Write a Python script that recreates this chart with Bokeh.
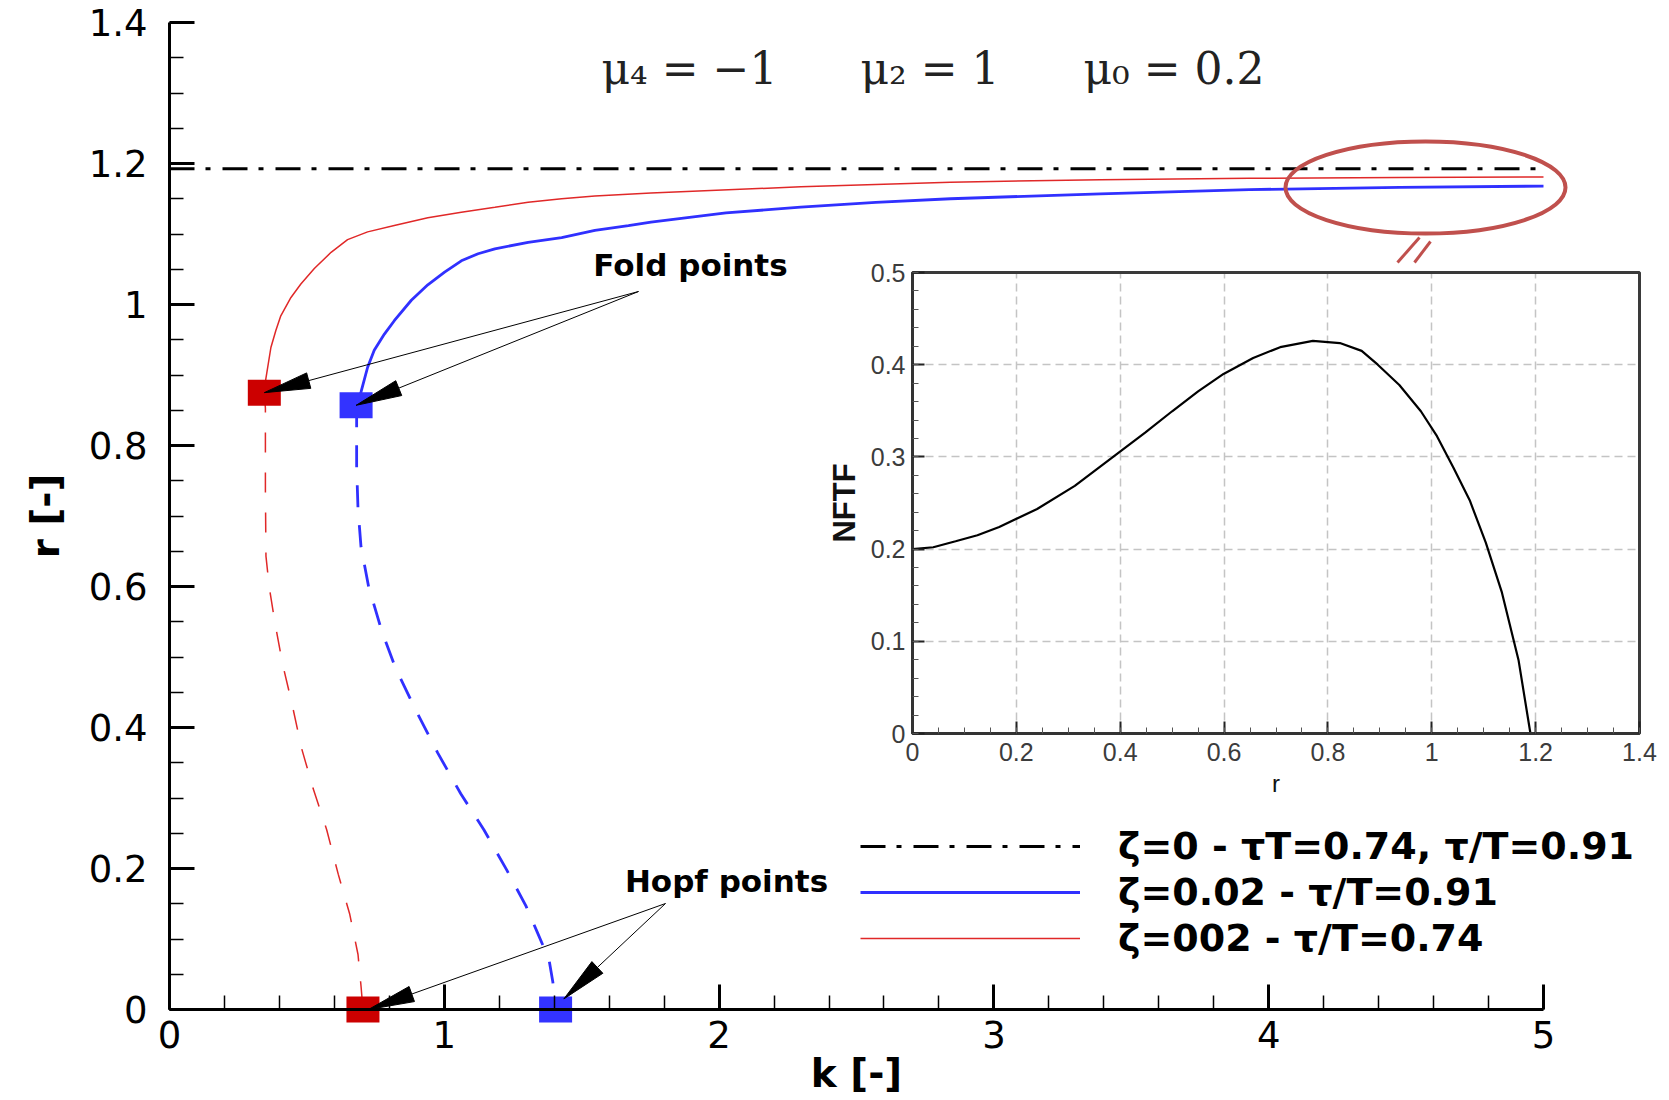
import numpy as np
from bokeh.plotting import figure
from bokeh.models import (Range1d, SingleIntervalTicker, CustomJSTickFormatter,
                          Legend, LegendItem, LinearAxis, Grid)
from bokeh.core.properties import value
from bokeh.embed import file_html
from bokeh.resources import INLINE

# ---------------- data ----------------
zeta0_k = [0.0, 5.0]
zeta0_r = [1.1925, 1.1925]

blue_st_k = [0.679, 0.697, 0.721, 0.745, 0.782, 0.818, 0.880, 0.940, 1.001, 1.062, 1.123,
             1.184, 1.305, 1.427, 1.548, 1.670, 1.752, 2.025, 2.297, 2.570, 2.842, 3.387,
             3.930, 4.476, 5.000]
blue_st_r = [0.857, 0.876, 0.911, 0.935, 0.958, 0.977, 1.006, 1.028, 1.046, 1.062, 1.072,
             1.079, 1.088, 1.095, 1.105, 1.112, 1.117, 1.130, 1.138, 1.145, 1.150, 1.157,
             1.163, 1.166, 1.168]
blue_un_k = [0.679, 0.681, 0.681, 0.686, 0.697, 0.725, 0.774, 0.823, 0.893, 0.976, 1.060,
             1.144, 1.227, 1.297, 1.339, 1.381, 1.395, 1.405]
blue_un_r = [0.857, 0.840, 0.770, 0.710, 0.656, 0.599, 0.535, 0.484, 0.427, 0.364, 0.306,
             0.255, 0.198, 0.147, 0.109, 0.071, 0.039, 0.0]

red_st_k = [0.345, 0.350, 0.369, 0.387, 0.405, 0.442, 0.478, 0.527, 0.588, 0.648, 0.721,
            0.818, 0.940, 1.062, 1.184, 1.305, 1.427, 1.548, 1.752, 2.297, 2.842, 3.387,
            3.930, 4.476, 5.000]
red_st_r = [0.875, 0.893, 0.939, 0.963, 0.984, 1.010, 1.029, 1.051, 1.074, 1.092, 1.103,
            1.112, 1.123, 1.131, 1.138, 1.145, 1.150, 1.154, 1.158, 1.167, 1.1735, 1.177,
            1.179, 1.180, 1.181]
red_un_k = [0.345, 0.349, 0.349, 0.351, 0.363, 0.384, 0.411, 0.446, 0.481, 0.523, 0.572,
            0.614, 0.656, 0.686, 0.697, 0.704]
red_un_r = [0.875, 0.853, 0.738, 0.643, 0.599, 0.548, 0.491, 0.433, 0.370, 0.313, 0.255,
            0.192, 0.135, 0.078, 0.033, 0.0]

fold_k = [0.345, 0.679]
fold_r = [0.875, 0.857]
hopf_k = [0.704, 1.405]
hopf_r = [0.0, 0.0]
point_colors = ["#CC0000", "#3333FF"]

nftf_r = [0.0, 0.04, 0.083, 0.125, 0.167, 0.24, 0.3125, 0.385, 0.448, 0.5, 0.55, 0.599,
          0.656, 0.708, 0.771, 0.823, 0.865, 0.896, 0.9375, 0.979, 1.01, 1.042, 1.073,
          1.104, 1.135, 1.167, 1.19]
nftf_v = [0.2, 0.202, 0.2085, 0.215, 0.224, 0.2435, 0.2686, 0.2994, 0.3264, 0.3495, 0.371,
          0.39, 0.4073, 0.419, 0.4258, 0.4235, 0.415, 0.40, 0.378, 0.3495, 0.3225, 0.288,
          0.253, 0.207, 0.153, 0.0798, 0.0]
inset_r_lim = (0.0, 1.4)
inset_v_lim = (0.0, 0.5)

legend_labels = ["ζ=0 - τT=0.74, τ/T=0.91", "ζ=0.02 - τ/T=0.91", "ζ=002 - τ/T=0.74"]
title_parts = ["μ₄ = −1", "μ₂ = 1", "μ₀ = 0.2"]
fold_label = "Fold points"
hopf_label = "Hopf points"

# ---------------- layout constants (page pixels) ----------------
FW, FH = 1662, 1099            # frame covers the whole figure
K0_PX, R0_PX = 169.0, 1009.0   # page position of k=0 / r=0
PXK, PXR = 274.8, 705.0        # pixels per unit of k / r
X0 = -K0_PX / PXK
X1 = X0 + FW / PXK
Y1 = R0_PX / PXR
Y0 = Y1 - FH / PXR
EPS = 1e-9                     # lets the last (floating point) tick survive the bounds

# inset box on the page
IL, IR_, IT, IB = 912.0, 1639.0, 272.0, 733.0
PXI = (IR_ - IL) / (inset_r_lim[1] - inset_r_lim[0])
PYI = (IB - IT) / (inset_v_lim[1] - inset_v_lim[0])
IX0 = inset_r_lim[0] - IL / PXI
IX1 = IX0 + FW / PXI
IY1 = inset_v_lim[0] + IB / PYI
IY0 = IY1 - FH / PYI


def kx(px):
    return (px - K0_PX) / PXK


def ry(py):
    return (R0_PX - py) / PXR


fmt = CustomJSTickFormatter(code="return (Math.round(tick*1000)/1000).toString();")

p = figure(frame_width=FW, frame_height=FH, min_border=0,
           x_range=Range1d(X0, X1), y_range=Range1d(Y0, Y1),
           output_backend="svg", toolbar_location=None, title=None)
p.outline_line_color = None
p.grid.visible = False
p.background_fill_color = "white"
p.border_fill_color = "white"

for ax in (p.xaxis[0], p.yaxis[0]):
    ax.fixed_location = 0
    ax.axis_line_width = 3
    ax.major_tick_line_width = 3
    ax.minor_tick_line_width = 1.5
    ax.major_tick_in = 25
    ax.major_tick_out = 0
    ax.minor_tick_in = 14
    ax.minor_tick_out = 0
    ax.formatter = fmt
    ax.major_label_text_font = "DejaVu Sans"
    ax.major_label_text_font_size = "37px"
    ax.major_label_text_color = "black"
    ax.axis_label_text_font = "DejaVu Sans"
    ax.axis_label_text_font_style = "bold"
    ax.axis_label_text_font_size = "39px"
    ax.axis_label_text_color = "black"

p.xaxis[0].bounds = (0, 5 + EPS)
p.xaxis[0].ticker = SingleIntervalTicker(interval=1, num_minor_ticks=5)
p.xaxis[0].major_label_standoff = 11
p.xaxis[0].axis_label = "k [-]"
p.xaxis[0].axis_label_standoff = 0
p.yaxis[0].bounds = (0, 1.4 + EPS)
p.yaxis[0].ticker = SingleIntervalTicker(interval=0.2, num_minor_ticks=4)
p.yaxis[0].major_label_standoff = 22
p.yaxis[0].axis_label = "r [-]"
p.yaxis[0].axis_label_standoff = 18

# ---------------- inset (own ranges, own axes) ----------------
p.extra_x_ranges = {"ir": Range1d(IX0, IX1)}
p.extra_y_ranges = {"iv": Range1d(IY0, IY1)}
iticks_x = SingleIntervalTicker(interval=0.2, num_minor_ticks=4)
iticks_y = SingleIntervalTicker(interval=0.1, num_minor_ticks=5)

try:
    gx = Grid(dimension=0, ticker=iticks_x, x_range_name="ir", y_range_name="iv",
              bounds=inset_r_lim, cross_bounds=inset_v_lim)
    gy = Grid(dimension=1, ticker=iticks_y, x_range_name="ir", y_range_name="iv",
              bounds=inset_v_lim, cross_bounds=inset_r_lim)
    for g in (gx, gy):
        g.grid_line_color = "#c4c4c4"
        g.grid_line_dash = "8 5"
        g.grid_line_width = 1.5
        p.add_layout(g)
except Exception:
    gxs = [0.2, 0.4, 0.6, 0.8, 1.0, 1.2]
    gys = [0.1, 0.2, 0.3, 0.4]
    p.segment(gxs, [inset_v_lim[0]] * len(gxs), gxs, [inset_v_lim[1]] * len(gxs),
              x_range_name="ir", y_range_name="iv", line_color="#c4c4c4",
              line_dash="8 5", line_width=1.5)
    p.segment([inset_r_lim[0]] * len(gys), gys, [inset_r_lim[1]] * len(gys), gys,
              x_range_name="ir", y_range_name="iv", line_color="#c4c4c4",
              line_dash="8 5", line_width=1.5)

p.quad(left=[inset_r_lim[0]], right=[inset_r_lim[1]], bottom=[inset_v_lim[0]],
       top=[inset_v_lim[1]], x_range_name="ir", y_range_name="iv",
       fill_color=None, line_color="#3a3a3a", line_width=3)
p.line(nftf_r, nftf_v, x_range_name="ir", y_range_name="iv",
       line_color="black", line_width=2.2)

ix = LinearAxis(x_range_name="ir", y_range_name="iv", fixed_location=inset_v_lim[0],
                bounds=(inset_r_lim[0], inset_r_lim[1] + EPS), ticker=iticks_x,
                formatter=fmt, axis_label="r")
iy = LinearAxis(x_range_name="ir", y_range_name="iv", fixed_location=inset_r_lim[0],
                bounds=(inset_v_lim[0], inset_v_lim[1] + EPS), ticker=iticks_y,
                formatter=fmt, axis_label="NFTF")
for ax in (ix, iy):
    ax.axis_line_width = 3
    ax.axis_line_color = "#333333"
    ax.major_tick_in = 12
    ax.major_tick_out = 0
    ax.minor_tick_in = 6
    ax.minor_tick_out = 0
    ax.major_tick_line_width = 2
    ax.major_tick_line_color = "#222222"
    ax.minor_tick_line_color = "#555555"
    ax.major_label_text_font = "Liberation Sans"
    ax.major_label_text_font_size = "25px"
    ax.major_label_text_color = "#3c3c3c"
    ax.axis_label_text_font = "Liberation Sans"
    ax.axis_label_text_color = "#111111"
ix.major_label_standoff = 9
ix.axis_label_text_font_size = "24px"
ix.axis_label_text_font_style = "normal"
ix.axis_label_standoff = 6
iy.major_label_standoff = 7
iy.axis_label_text_font_size = "31px"
iy.axis_label_text_font_style = "bold"
iy.axis_label_standoff = 6
p.add_layout(ix, "below")
p.add_layout(iy, "left")

# ---------------- main curves ----------------
r0 = p.line(zeta0_k, zeta0_r, line_color="black", line_width=3, line_dash="25 11 5 12")
rb = p.line(blue_st_k, blue_st_r, line_color="#3030FF", line_width=2.8)
rr = p.line(red_st_k, red_st_r, line_color="#E02828", line_width=1.5)
p.line(blue_un_k, blue_un_r, line_color="#3030FF", line_width=2.8, line_dash="22 18")
p.line(red_un_k, red_un_r, line_color="#E02828", line_width=1.5, line_dash="20 20")

p.rect(fold_k, fold_r, width=33, height=26, width_units="screen", height_units="screen",
       fill_color=point_colors, line_color=None)
p.rect(hopf_k, hopf_r, width=33, height=26, width_units="screen", height_units="screen",
       fill_color=point_colors, line_color=None)


def arrow_parts(src, tips, length=46, half=8):
    xs0, ys0, xs1, ys1, hx, hy = [], [], [], [], [], []
    for tx, ty in tips:
        dx = (src[0] - tx) * PXK
        dy = (src[1] - ty) * PXR
        L = np.hypot(dx, dy)
        ux, uy = dx / L, dy / L
        bx, by = ux * length, uy * length
        nx, ny = -uy * half, ux * half
        xs0.append(src[0]); ys0.append(src[1])
        xs1.append(tx + bx / PXK); ys1.append(ty + by / PXR)
        hx.append([tx, tx + (bx + nx) / PXK, tx + (bx - nx) / PXK])
        hy.append([ty, ty + (by + ny) / PXR, ty + (by - ny) / PXR])
    return xs0, ys0, xs1, ys1, hx, hy


fold_src = (kx(638), ry(291))
hopf_src = (kx(665), ry(903))
for src, tips in ((fold_src, list(zip(fold_k, fold_r))),
                  (hopf_src, [(hopf_k[0] + 0.02, hopf_r[0]),
                              (hopf_k[1] + 0.03, hopf_r[1] + 0.015)])):
    a, b, c, d, hx, hy = arrow_parts(src, tips)
    p.segment(a, b, c, d, line_color="black", line_width=1)
    p.patches(hx, hy, fill_color="black", line_color="black", line_width=1)

p.text([kx(690)], [ry(264)], text=[fold_label], text_font=value("DejaVu Sans"),
       text_font_style="bold", text_font_size="31px", text_align="center",
       text_baseline="middle", text_color="black")
p.text([kx(726)], [ry(880)], text=[hopf_label], text_font=value("DejaVu Sans"),
       text_font_style="bold", text_font_size="31px", text_align="center",
       text_baseline="middle", text_color="black")

p.text([kx(601), kx(860), kx(1083)], [ry(68)] * 3, text=title_parts,
       text_font=value("DejaVu Serif"), text_font_size="44px", text_align="left",
       text_baseline="alphabetic", text_color="#222222")

# callout ellipse and its pointer
p.ellipse([kx(1425)], [ry(187)], width=280, height=92, width_units="screen",
          height_units="screen", fill_alpha=0, line_color="#C0504D", line_width=4)
p.segment([kx(1419), kx(1430)], [ry(237), ry(241)], [kx(1397), kx(1414)], [ry(262), ry(262)],
          line_color="#C0504D", line_width=3)

legend = Legend(items=[LegendItem(label=legend_labels[0], renderers=[r0]),
                       LegendItem(label=legend_labels[1], renderers=[rb]),
                       LegendItem(label=legend_labels[2], renderers=[rr])],
                location=(860, FH - 961))
legend.margin = 0
legend.padding = 0
legend.spacing = 0
legend.glyph_width = 220
legend.glyph_height = 46
legend.label_height = 46
legend.label_standoff = 38
legend.label_text_font = "DejaVu Sans"
legend.label_text_font_style = "bold"
legend.label_text_font_size = "38px"
legend.label_text_color = "black"
legend.background_fill_alpha = 0
legend.border_line_alpha = 0
p.add_layout(legend)

open("out.html", "w").write(file_html(p, INLINE))
